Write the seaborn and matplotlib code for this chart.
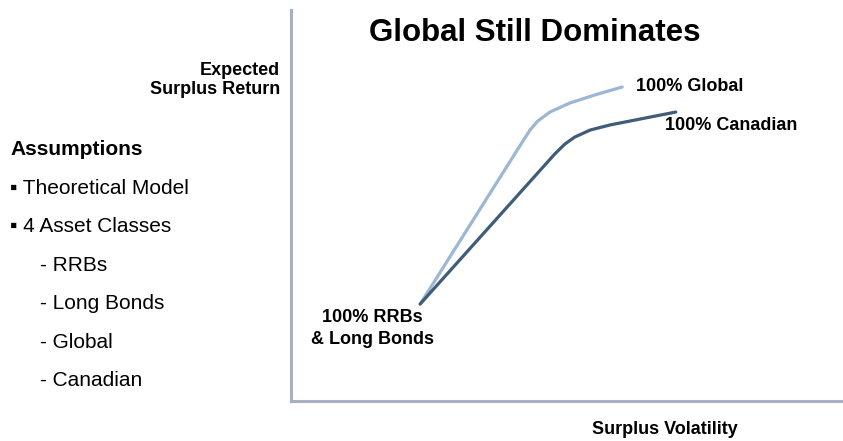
import matplotlib
matplotlib.use('Agg')
import matplotlib.pyplot as plt
import seaborn as sns
import pandas as pd

# Efficient frontier curves (volatility, return)
global_vol = [2.34, 4.18, 4.33, 4.47, 4.69, 5.05, 5.51, 6.00]
global_ret = [2.48, 6.60, 6.93, 7.16, 7.39, 7.62, 7.83, 8.03]
canadian_vol = [2.34, 4.78, 4.96, 5.14, 5.42, 5.78, 6.32, 6.97]
canadian_ret = [2.48, 6.32, 6.57, 6.75, 6.93, 7.06, 7.21, 7.39]

bullets = ['\u25aa Theoretical Model', '\u25aa 4 Asset Classes']
sub_items = ['- RRBs', '- Long Bonds', '- Global', '- Canadian']

sns.set_theme(style='white')
plt.rcParams['font.family'] = ['Liberation Sans', 'DejaVu Sans']
plt.rcParams['text.color'] = 'black'

df_g = pd.DataFrame({'vol': global_vol, 'ret': global_ret})
df_c = pd.DataFrame({'vol': canadian_vol, 'ret': canadian_ret})

fig = plt.figure(figsize=(8.43, 4.41), dpi=100)
ax = fig.add_axes([291 / 843, 40 / 441, 552 / 843, 391 / 441])

sns.lineplot(data=df_g, x='vol', y='ret', color='#9BB7D4', linewidth=2.3, sort=False, ax=ax)
sns.lineplot(data=df_c, x='vol', y='ret', color='#3F5D78', linewidth=2.3, sort=False, ax=ax)

ax.set_xlim(0, 10)
ax.set_ylim(0, 10)
ax.set_xticks([])
ax.set_yticks([])
ax.set_xlabel('')
ax.set_ylabel('')
for side in ['top', 'right']:
    ax.spines[side].set_visible(False)
for side in ['left', 'bottom']:
    ax.spines[side].set_color('#A7AFC2')
    ax.spines[side].set_linewidth(2.2)

# labels on the curves
ax.text(6.25, 8.05, '100% Global', fontsize=13, fontweight='bold', va='center', ha='left')
ax.text(6.78, 7.05, '100% Canadian', fontsize=13, fontweight='bold', va='center', ha='left')
ax.text(1.48, 1.85, '100% RRBs\n& Long Bonds', fontsize=13, fontweight='bold',
        va='center', ha='center', linespacing=1.35)

fig.text(535 / 843, 1 - 33 / 441, 'Global Still Dominates', fontsize=22.5,
         fontweight='bold', ha='center', va='center')
fig.text(280 / 843, 1 - 80 / 441, 'Expected\nSurplus Return', fontsize=13,
         fontweight='bold', ha='right', va='center', multialignment='right', linespacing=1.1)
fig.text(665 / 843, 1 - 430 / 441, 'Surplus Volatility', fontsize=13,
         fontweight='bold', ha='center', va='center')

# assumptions block on the left
fig.text(10 / 843, 1 - 150 / 441, 'Assumptions', fontsize=15, fontweight='bold',
         ha='left', va='center')
for i, item in enumerate(bullets):
    fig.text(10 / 843, 1 - (188 + i * 38.6) / 441, item, fontsize=15,
             ha='left', va='center')
for i, item in enumerate(sub_items):
    fig.text(40 / 843, 1 - (188 + (i + 2) * 38.6) / 441, item, fontsize=15,
             ha='left', va='center')

fig.savefig('out.png', dpi=100)
